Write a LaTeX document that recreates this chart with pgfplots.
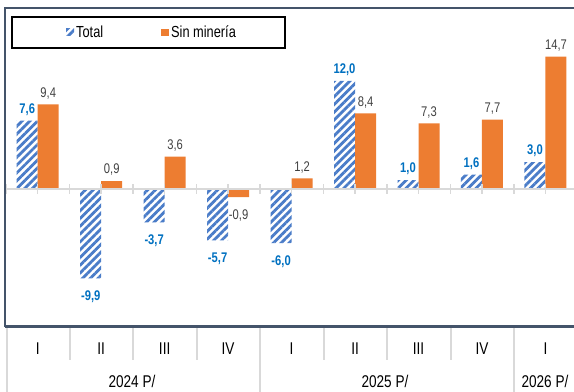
\documentclass[border=0pt]{standalone}
\usepackage{fontspec}
\setmainfont{Liberation Sans}[FakeStretch=0.8]
\usepackage{pgfplots}
\pgfplotsset{compat=1.18}
\usetikzlibrary{patterns.meta}
\definecolor{cblue}{HTML}{4A7CC8}
\definecolor{corange}{HTML}{ED7D31}
\definecolor{clab}{HTML}{0070C0}
\definecolor{cgray}{HTML}{404040}
\definecolor{cframe}{HTML}{44546A}
\definecolor{csep}{HTML}{D9D9D9}

\begin{document}
\begin{tikzpicture}
\begin{axis}[
  at={(6bp,65bp)}, anchor=south west,
  scale only axis, width=568bp, height=319bp,
  xmin=-0.5, xmax=8.45, ymin=-15.3, ymax=20.1,
  axis line style={draw=none},
  ytick=\empty,
  xtick=data,
  xticklabels={I,II,III,IV,I,II,III,IV,I},
  xticklabel style={anchor=base, yshift=-28bp, text=black,
    font=\fontsize{17bp}{19bp}\selectfont},
  major tick length=0pt,
  ybar=0pt, bar width=21bp,
  clip=false,
  /pgf/number format/.cd, fixed, fixed zerofill, precision=1, use comma,
    assume math mode=true,
  /pgfplots/.cd,
  nodes near coords,
  every node near coord/.append style={inner ysep=7bp, text depth=0pt,
    text height=15bp},
  legend columns=2,
  legend style={at={(0.1056,0.9232)}, anchor=west, draw=none, fill=none,
    inner sep=0pt, font=\fontsize{16bp}{18bp}\selectfont,
    cells={anchor=west},
    /tikz/every even column/.append style={column sep=56bp}},
  legend image code/.code={\path[#1, draw=none] (0bp,-3.5bp) rectangle (8bp,3.5bp);},
]
\addplot[draw=none, pattern={Lines[angle=45,distance=5.5bp,line width=2.8bp]},
  pattern color=cblue,
  nodes near coords style={font=\fontsize{14bp}{16bp}\selectfont\bfseries, text=clab}]
  coordinates {(0,7.6) (1,-9.9) (2,-3.7) (3,-5.7) (4,-6.0) (5,12.0) (6,1.0) (7,1.6) (8,3.0)};
\addlegendentry{Total}
\addplot[draw=none, fill=corange,
  nodes near coords style={font=\fontsize{14bp}{16bp}\selectfont, text=cgray}]
  coordinates {(0,9.4) (1,0.9) (2,3.6) (3,-0.9) (4,1.2) (5,8.4) (6,7.3) (7,7.7) (8,14.7)};
\addlegendentry{Sin minería}
\end{axis}
% zero line with ticks
\draw[csep, line width=2.5bp] (6bp,203bp) -- (574bp,203bp);
\foreach \k in {0,...,17}
  \draw[csep, line width=1.5bp] ({6+31.75*\k bp},198bp) -- ++(0,10bp);
% frame
\draw[cframe, line width=2.5bp] (5bp,65bp) -- (5bp,384bp) -- (574bp,384bp);
\draw[cframe, line width=3bp] (5bp,65bp) -- (574bp,65bp);
% separators under the axis
\foreach \x in {69.5,133,196.5,323.5,387,450.5}
  \draw[csep, line width=2bp] (\x bp,63.5bp) -- (\x bp,32bp);
\foreach \x in {7,260,514}
  \draw[csep, line width=2bp] (\x bp,63.5bp) -- (\x bp,0bp);
% years
\begin{scope}[every node/.style={anchor=base, inner sep=0pt,
    font=\fontsize{17bp}{19bp}\selectfont}]
  \node at (132bp,5bp) {2024 P/};
  \node at (385bp,5bp) {2025 P/};
  \node at (545bp,5bp) {2026 P/};
\end{scope}
% legend frame
\draw[black, line width=2bp] (12bp,375bp) rectangle (285bp,344bp);
\pgfresetboundingbox
\useasboundingbox (0,0) rectangle (574bp,392bp);
\end{tikzpicture}
\end{document}
